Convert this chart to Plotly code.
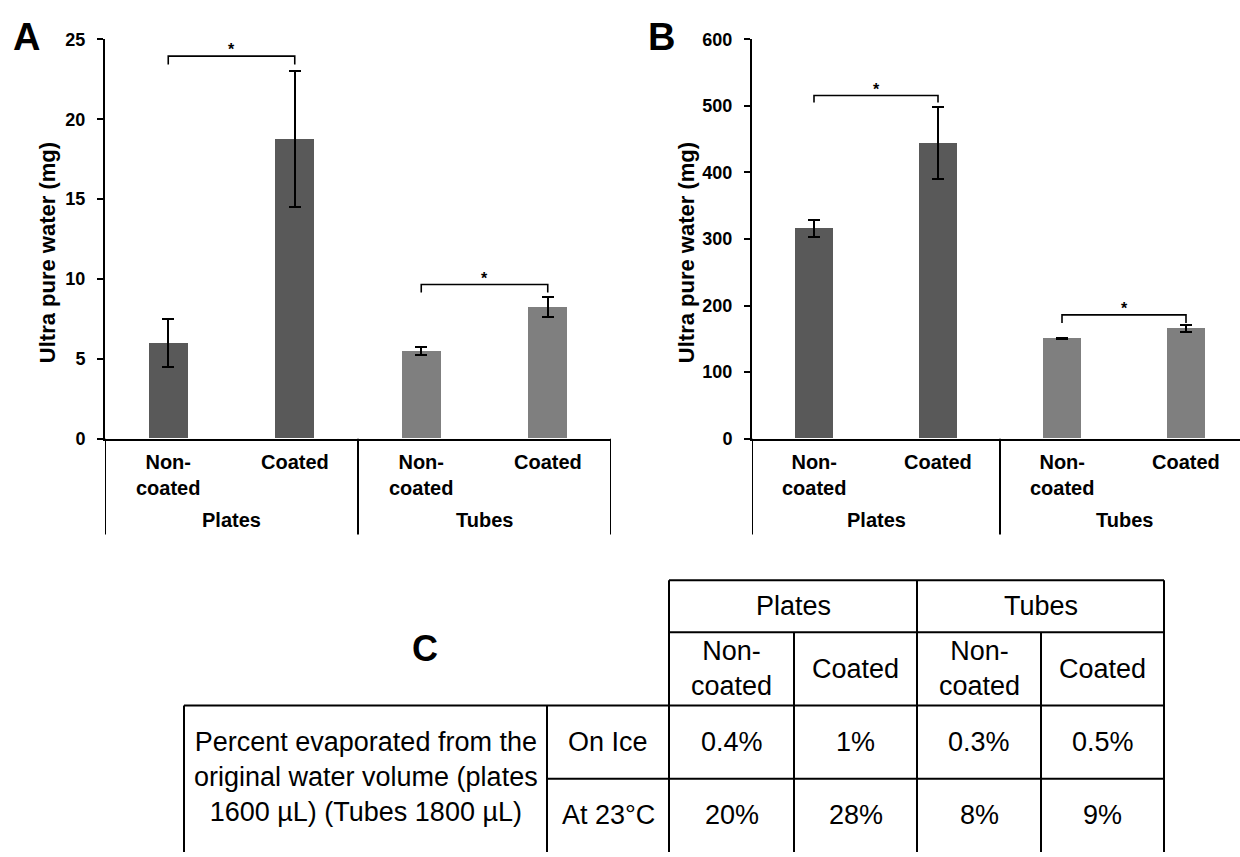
import plotly.graph_objects as go

W, H = 1240, 857
FONT = "Liberation Sans, Arial, Helvetica, sans-serif"

# ---------------- data ----------------
categories = ["Plates Non-coated", "Plates Coated", "Tubes Non-coated", "Tubes Coated"]
sub_labels = ["Non-<br>coated", "Coated", "Non-<br>coated", "Coated"]
group_labels = ["Plates", "Tubes"]
bar_colors = ["#595959", "#595959", "#7f7f7f", "#7f7f7f"]

a_values = [6.0, 18.75, 5.5, 8.25]
a_errors = [1.5, 4.25, 0.25, 0.6]
b_values = [316, 444, 150.5, 166]
b_errors = [13, 54, 1.2, 5]

a_ticks = [0, 5, 10, 15, 20, 25]
b_ticks = [0, 100, 200, 300, 400, 500, 600]
y_title = "Ultra pure water (mg)"

# significance brackets: category index pairs, bracket top, bracket end
bracket_pairs = [(0, 1), (2, 3)]
a_bracket_top = [23.95, 9.65]
a_bracket_end = [23.43, 9.15]
b_bracket_top = [515.5, 186]
b_bracket_end = [505, 174]

# table C
table_groups = ["Plates", "Tubes"]
table_subs = ["Non-<br>coated", "Coated", "Non-<br>coated", "Coated"]
table_row_label = "Percent evaporated from the<br>original water volume (plates<br>1600 µL) (Tubes 1800 µL)"
table_conditions = ["On Ice", "At 23°C"]
table_values = [["0.4%", "1%", "0.3%", "0.5%"],
                ["20%", "28%", "8%", "9%"]]


def px(x):
    return x / W


def py(y):
    return 1 - y / H


fig = go.Figure()

# ---------------- bars ----------------
fig.add_trace(go.Bar(
    x=categories, y=a_values, width=0.31,
    marker=dict(color=bar_colors, line=dict(width=0)),
    error_y=dict(type="data", array=a_errors, color="black", thickness=2, width=6),
    xaxis="x", yaxis="y", showlegend=False, hoverinfo="skip"))
fig.add_trace(go.Bar(
    x=categories, y=b_values, width=0.31,
    marker=dict(color=bar_colors, line=dict(width=0)),
    error_y=dict(type="data", array=b_errors, color="black", thickness=2, width=6),
    xaxis="x2", yaxis="y2", showlegend=False, hoverinfo="skip"))

# brackets
annotations = []
for (tops, ends, xa, ya) in [(a_bracket_top, a_bracket_end, "x", "y"),
                             (b_bracket_top, b_bracket_end, "x2", "y2")]:
    for (i0, i1), top, end in zip(bracket_pairs, tops, ends):
        fig.add_trace(go.Scatter(
            x=[categories[i0], categories[i0], categories[i1], categories[i1]],
            y=[end, top, top, end], mode="lines",
            line=dict(color="black", width=1.6),
            xaxis=xa, yaxis=ya, showlegend=False, hoverinfo="skip"))
        annotations.append(dict(
            x=(i0 + i1) / 2, y=top, xref=xa, yref=ya, text="<b>*</b>",
            showarrow=False, yanchor="bottom", yshift=-4,
            font=dict(size=16, color="black", family=FONT)))

# ---------------- axes ----------------
y_dom = [py(439), py(30)]
axis_common = dict(showgrid=False, zeroline=False, showline=True, linecolor="black",
                   linewidth=2)
fig.update_layout(
    xaxis=dict(domain=[px(105), px(611)], range=[-0.5, 3.5], type="category",
               categoryorder="array", categoryarray=categories,
               showticklabels=False, ticks="", anchor="y", fixedrange=True, **axis_common),
    xaxis2=dict(domain=[px(752), 1.0], range=[-0.5, -0.5 + (W - 752) / 124], type="category",
                categoryorder="array", categoryarray=categories,
                showticklabels=False, ticks="", anchor="y2", fixedrange=True, **axis_common),
    yaxis=dict(domain=y_dom, range=[0, 25], tickvals=a_ticks, ticks="outside",
               ticklen=6, tickwidth=2, tickcolor="black", anchor="x", ticklabelstandoff=8,
               tickfont=dict(size=18, color="black", family=FONT, weight="bold"),
               fixedrange=True, **axis_common),
    yaxis2=dict(domain=y_dom, range=[0, 600], tickvals=b_ticks, ticks="outside",
                ticklen=6, tickwidth=2, tickcolor="black", anchor="x2", ticklabelstandoff=8,
                tickfont=dict(size=18, color="black", family=FONT, weight="bold"),
                fixedrange=True, **axis_common),
)

# multi-level category labels and dividers
shapes = []
div_depth = -(537 - 439) / (439 - 30)
for xa, ya in [("x", "y"), ("x2", "y2")]:
    for i, lab in enumerate(sub_labels):
        annotations.append(dict(
            x=categories[i], y=py(450), xref=xa, yref="paper", text="<b>%s</b>" % lab,
            showarrow=False, yanchor="top", align="center",
            font=dict(size=20, color="black", family=FONT)))
    for g, glab in enumerate(group_labels):
        annotations.append(dict(
            x=2 * g + 0.5, y=py(522), xref=xa, yref="paper", text="<b>%s</b>" % glab,
            showarrow=False, yanchor="middle",
            font=dict(size=20, color="black", family=FONT)))
    for xv in [-0.5, 1.5, 3.5]:
        shapes.append(dict(type="line", xref=xa, yref=ya + " domain", x0=xv, x1=xv,
                           y0=0, y1=div_depth, line=dict(color="black", width=2)))

# axis titles and panel letters
for xc in [47, 686]:
    annotations.append(dict(
        x=px(xc), y=py(249), xref="paper", yref="paper", text="<b>%s</b>" % y_title,
        showarrow=False, textangle=-90, xanchor="center", yanchor="middle",
        font=dict(size=22, color="black", family=FONT)))
for letter, xc in [("A", 26), ("B", 661)]:
    annotations.append(dict(
        x=px(xc), y=py(28), xref="paper", yref="paper", text="<b>%s</b>" % letter,
        showarrow=False, xanchor="center", yanchor="middle",
        font=dict(size=38, color="black", family=FONT)))

# ---------------- table C ----------------
col_x = [184, 547, 669, 794, 917, 1041, 1164]
row_y = [584, 637, 712, 787, 862]
line = dict(color="black", width=2)


def hline(x0, x1, y):
    shapes.append(dict(type="line", xref="paper", yref="paper", x0=px(x0), x1=px(x1),
                       y0=py(y), y1=py(y), line=line))


def vline(x, y0, y1):
    shapes.append(dict(type="line", xref="paper", yref="paper", x0=px(x), x1=px(x),
                       y0=py(y0), y1=py(y1), line=line))


hline(col_x[2], col_x[6], row_y[0])
hline(col_x[2], col_x[6], row_y[1])
hline(col_x[0], col_x[6], row_y[2])
hline(col_x[1], col_x[6], row_y[3])
vline(col_x[0], row_y[2], row_y[4])
vline(col_x[1], row_y[2], row_y[4])
vline(col_x[2], row_y[0], row_y[4])
vline(col_x[3], row_y[1], row_y[4])
vline(col_x[4], row_y[0], row_y[4])
vline(col_x[5], row_y[1], row_y[4])
vline(col_x[6], row_y[0], row_y[4])

TF = dict(size=27, color="black", family=FONT)


def cell_text(text, x0, x1, y0, y1):
    annotations.append(dict(
        x=px((x0 + x1) / 2), y=py((y0 + y1) / 2), xref="paper", yref="paper", text=text,
        showarrow=False, xanchor="center", yanchor="middle", align="center", font=TF))


for g, glab in enumerate(table_groups):
    cell_text(glab, col_x[2 + 2 * g], col_x[4 + 2 * g], row_y[0], row_y[1])
for j, s in enumerate(table_subs):
    cell_text(s, col_x[2 + j], col_x[3 + j], row_y[1], row_y[2])
cell_text(table_row_label, col_x[0], col_x[1], row_y[2], row_y[4] - 4)
for r, cond in enumerate(table_conditions):
    cell_text(cond, col_x[1], col_x[2], row_y[2 + r], row_y[3 + r])
    for j, v in enumerate(table_values[r]):
        cell_text(v, col_x[2 + j], col_x[3 + j], row_y[2 + r], row_y[3 + r])

annotations.append(dict(
    x=px(425), y=py(654), xref="paper", yref="paper", text="<b>C</b>",
    showarrow=False, xanchor="center", yanchor="middle",
    font=dict(size=36, color="black", family=FONT)))

fig.update_layout(
    width=W, height=H, margin=dict(l=0, r=0, t=0, b=0),
    paper_bgcolor="white", plot_bgcolor="white",
    annotations=annotations, shapes=shapes, bargap=0, showlegend=False,
)

# remove the default 8px page margin so the figure fills the window exactly
fig.write_html("out.html", config={"displayModeBar": False},
               post_script="document.body.style.margin='0';document.body.style.overflow='hidden';")
